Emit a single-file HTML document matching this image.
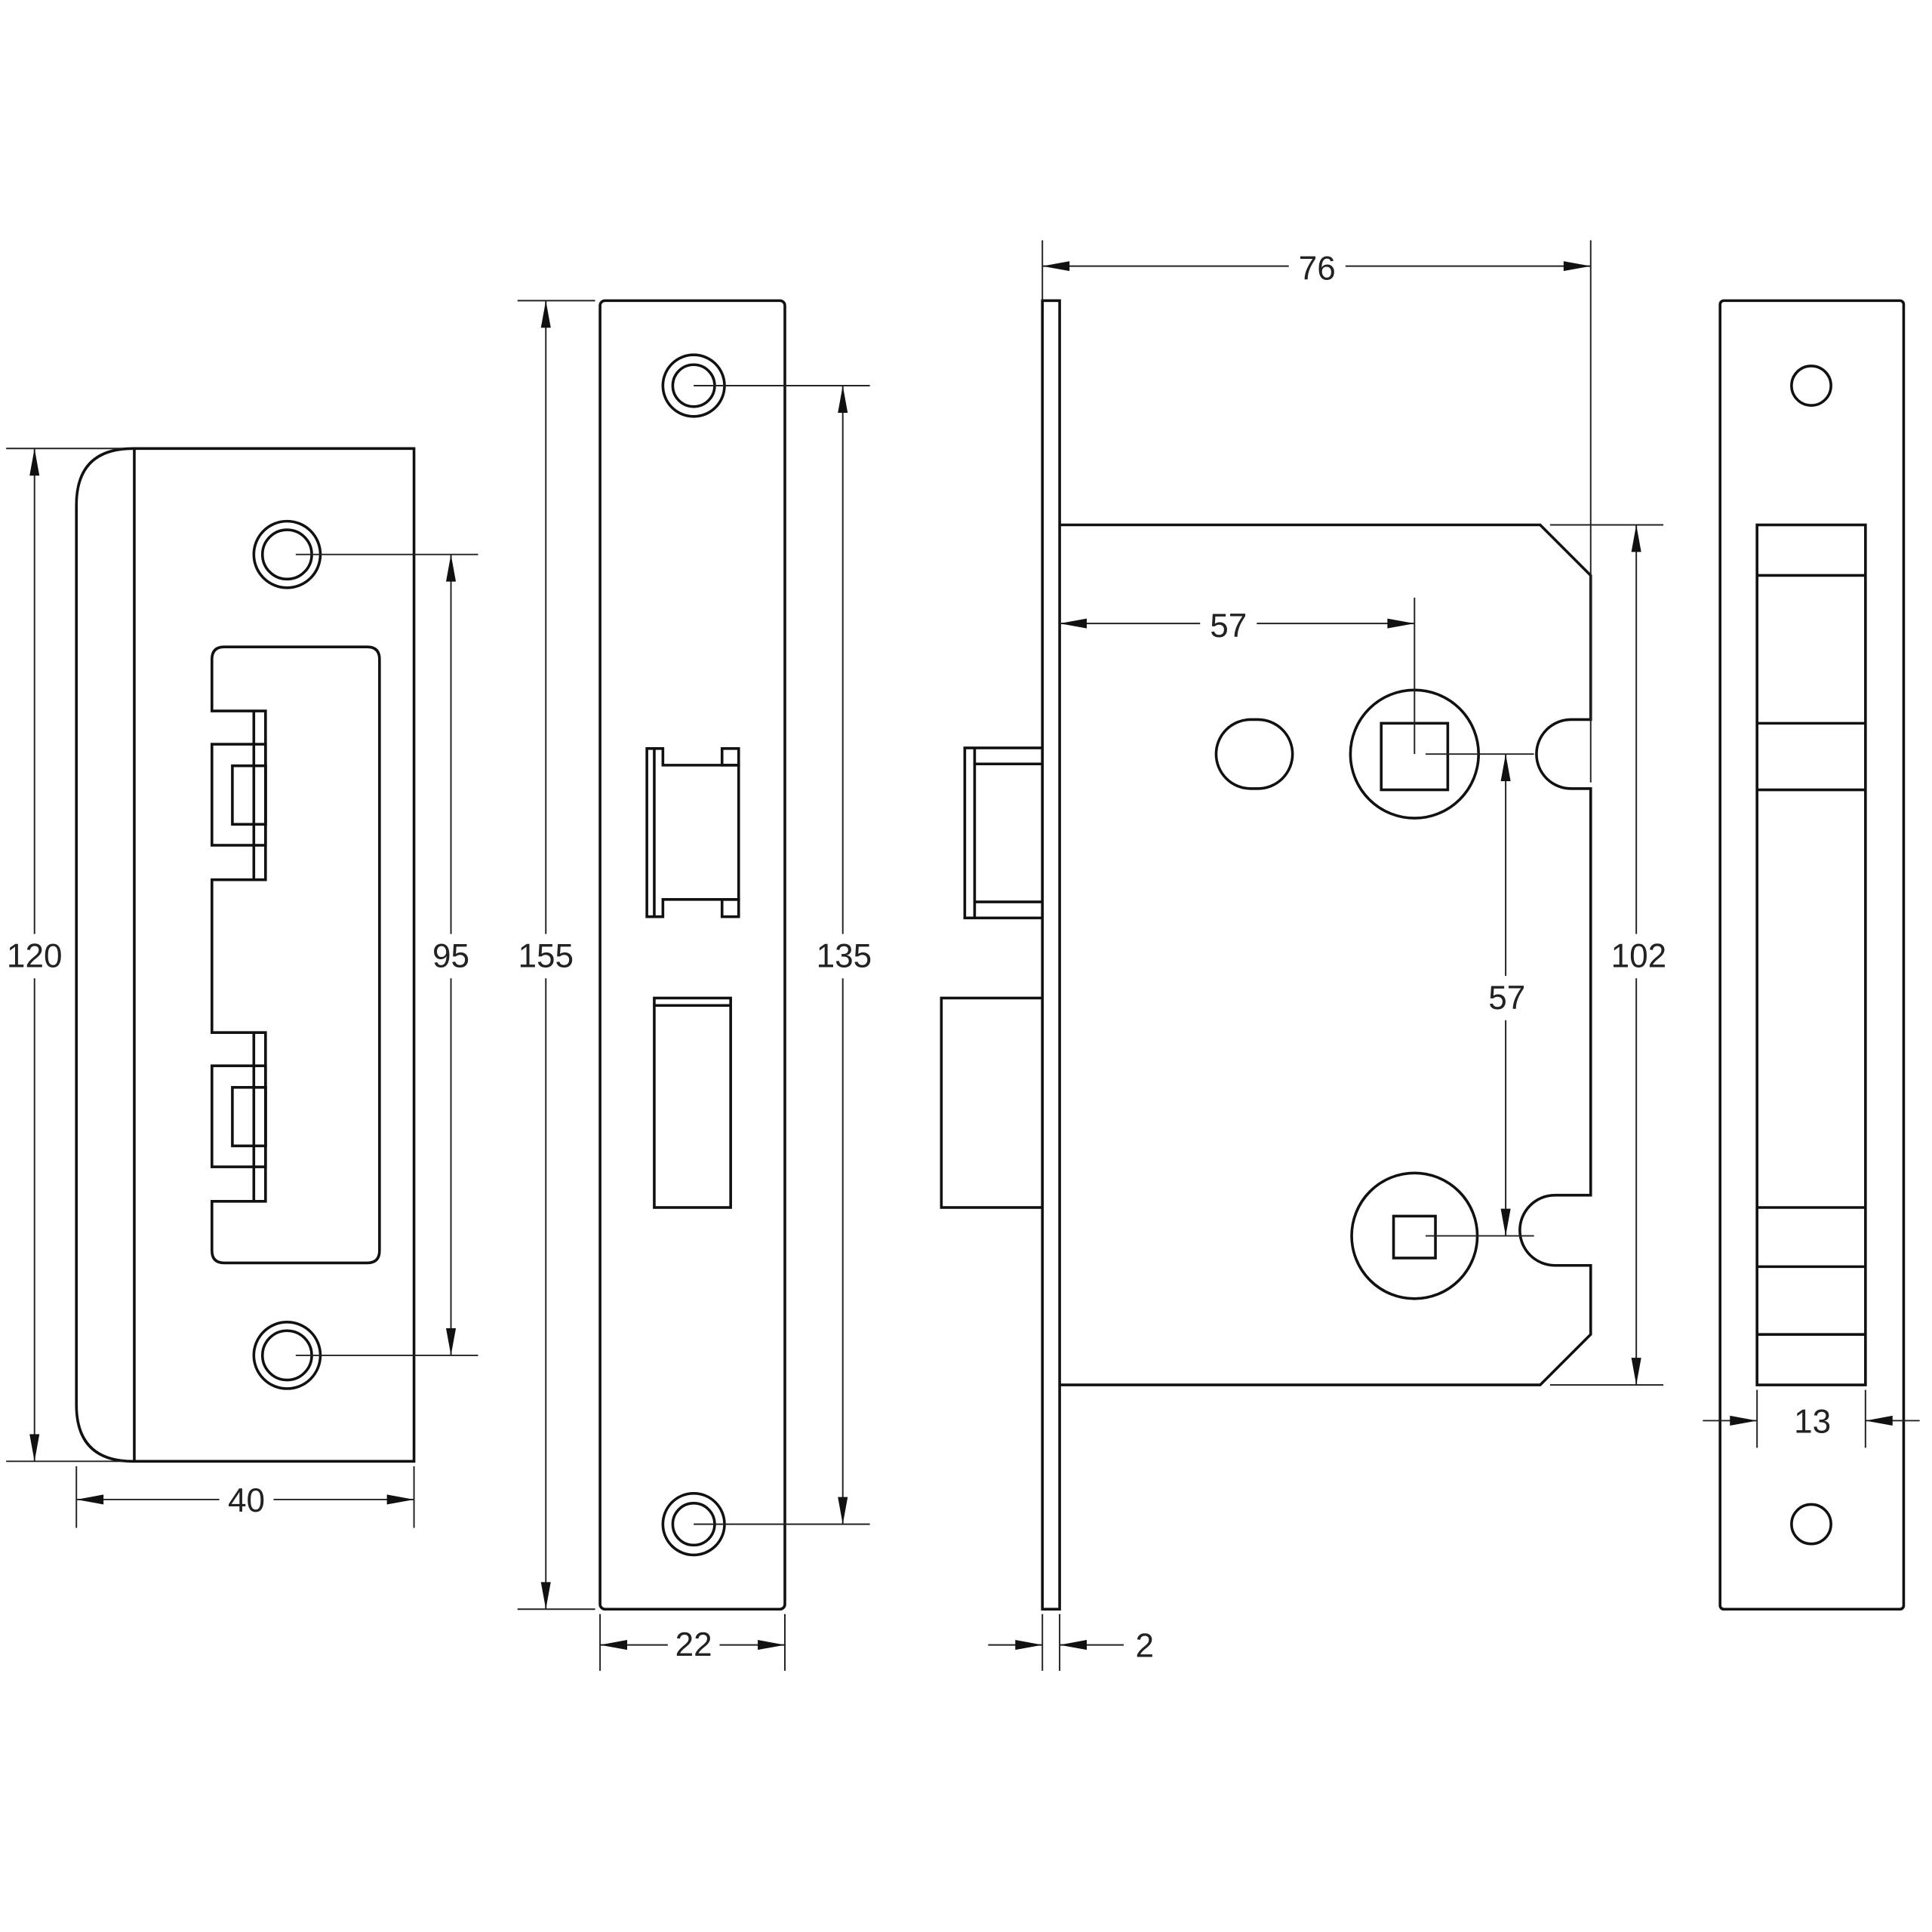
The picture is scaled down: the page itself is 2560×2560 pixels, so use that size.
<!DOCTYPE html>
<html><head><meta charset="utf-8"><style>
html,body{margin:0;padding:0;background:#fff}
svg{display:block}
text{font-family:"Liberation Sans","DejaVu Sans",sans-serif;font-size:27px;fill:#222;text-anchor:middle;dominant-baseline:central}
.t{fill:none;stroke:#111;stroke-width:2.2}
.n{fill:none;stroke:#222;stroke-width:1.2}
.a{fill:#111}
</style></head><body>
<svg width="2560" height="2560" viewBox="0 0 1568 1568" xmlns="http://www.w3.org/2000/svg">
<defs>
<path id="ar" d="M0,0 L-22,-4 L-22,4 Z" class="a"/>
</defs>
<rect width="1568" height="1568" fill="#fff"/>

<!-- ===== Strike plate ===== -->
<path class="t" d="M108,364 L336,364 L336,1186 L108,1186 Q62,1186 62,1140 L62,410 Q62,364 108,364 Z"/>
<line class="t" x1="109" y1="364" x2="109" y2="1186"/>
<circle class="t" cx="233" cy="450" r="27"/><circle class="t" cx="233" cy="450" r="20"/>
<circle class="t" cx="233" cy="1100" r="27"/><circle class="t" cx="233" cy="1100" r="20"/>
<path class="t" d="M172,577 L172,535 Q172,525 182,525 L298,525 Q308,525 308,535 L308,1015 Q308,1025 298,1025 L182,1025 Q172,1025 172,1015 L172,975 L215.5,975 L215.5,838 L172,838 L172,714 L215.5,714 L215.5,577 Z"/>
<g class="t">
<line x1="206" y1="577" x2="206" y2="714"/>
<rect x="172" y="604" width="43.5" height="82"/>
<rect x="188.6" y="621.5" width="27" height="47.5"/>
<line x1="206" y1="838" x2="206" y2="975"/>
<rect x="172" y="865" width="43.5" height="82"/>
<rect x="188.6" y="882.5" width="27" height="47.5"/>
</g>
<!-- dims -->
<g class="n">
<line x1="5" y1="364" x2="100" y2="364"/><line x1="5" y1="1186" x2="100" y2="1186"/>
<line x1="28" y1="364" x2="28" y2="1186"/>
<line x1="240" y1="450" x2="388" y2="450"/><line x1="240" y1="1100" x2="388" y2="1100"/>
<line x1="366" y1="450" x2="366" y2="1100"/>
<line x1="62" y1="1190" x2="62" y2="1240"/><line x1="336" y1="1190" x2="336" y2="1240"/>
<line x1="62" y1="1217" x2="336" y2="1217"/>
</g>
<use href="#ar" transform="translate(28,364) rotate(-90)"/><use href="#ar" transform="translate(28,1186) rotate(90)"/>
<use href="#ar" transform="translate(366,450) rotate(-90)"/><use href="#ar" transform="translate(366,1100) rotate(90)"/>
<use href="#ar" transform="translate(62,1217) rotate(180)"/><use href="#ar" transform="translate(336,1217)"/>
<rect x="2" y="758" width="52" height="36" fill="#fff"/><text x="28" y="776">120</text>
<rect x="346" y="758" width="40" height="36" fill="#fff"/><text x="366" y="776">95</text>
<rect x="178" y="1200" width="44" height="34" fill="#fff"/><text x="200" y="1218">40</text>

<!-- ===== Forend plate ===== -->
<rect class="t" x="487" y="244" width="150" height="1062" rx="4"/>
<circle class="t" cx="563" cy="313" r="25"/><circle class="t" cx="563" cy="313" r="17"/>
<circle class="t" cx="563" cy="1237" r="25"/><circle class="t" cx="563" cy="1237" r="17"/>
<path class="t" d="M525,607.5 L538,607.5 L538,621 L599.5,621 L599.5,730 L538,730 L538,744 L525,744 Z"/>
<line class="t" x1="531" y1="607.5" x2="531" y2="744"/>
<rect class="t" x="586" y="607.5" width="13.5" height="13.5"/>
<rect class="t" x="586" y="730" width="13.5" height="14"/>
<rect class="t" x="531" y="810" width="62" height="170"/>
<line class="t" x1="531" y1="816" x2="593" y2="816"/>
<g class="n">
<line x1="420" y1="244" x2="483" y2="244"/><line x1="420" y1="1306" x2="483" y2="1306"/>
<line x1="443" y1="244" x2="443" y2="1306"/>
<line x1="563" y1="313" x2="706" y2="313"/><line x1="563" y1="1237" x2="706" y2="1237"/>
<line x1="684" y1="313" x2="684" y2="1237"/>
<line x1="487" y1="1310" x2="487" y2="1356"/><line x1="637" y1="1310" x2="637" y2="1356"/>
<line x1="487" y1="1335" x2="637" y2="1335"/>
</g>
<use href="#ar" transform="translate(443,244) rotate(-90)"/><use href="#ar" transform="translate(443,1306) rotate(90)"/>
<use href="#ar" transform="translate(684,313) rotate(-90)"/><use href="#ar" transform="translate(684,1237) rotate(90)"/>
<use href="#ar" transform="translate(487,1335) rotate(180)"/><use href="#ar" transform="translate(637,1335)"/>
<rect x="420" y="758" width="46" height="36" fill="#fff"/><text x="443" y="776">155</text>
<rect x="661" y="758" width="46" height="36" fill="#fff"/><text x="685" y="776">135</text>
<rect x="542" y="1318" width="42" height="34" fill="#fff"/><text x="563" y="1335">22</text>

<!-- ===== Lock body ===== -->
<rect class="t" x="846" y="244" width="14" height="1062"/>
<path class="t" d="M860,426 L1250,426 L1291,467 L1291,584 L1275,584 A28,28 0 0 0 1275,640 L1291,640 L1291,970 L1262,970 A28.5,28.5 0 0 0 1262,1027 L1291,1027 L1291,1083 L1250,1124 L860,1124"/>
<rect class="t" x="783" y="607" width="63" height="138"/>
<line class="t" x1="791" y1="607" x2="791" y2="745"/>
<line class="t" x1="791" y1="620" x2="846" y2="620"/><line class="t" x1="791" y1="732" x2="846" y2="732"/>
<rect class="t" x="764" y="810" width="82" height="170"/>
<rect class="t" x="987" y="584" width="62" height="56" rx="28"/>
<circle class="t" cx="1148" cy="612" r="52"/>
<rect class="t" x="1121" y="587" width="54" height="54"/>
<circle class="t" cx="1148" cy="1003" r="51"/>
<rect class="t" x="1131" y="987" width="34" height="34"/>
<g class="n">
<line x1="846" y1="195" x2="846" y2="244"/>
<line x1="1291" y1="195" x2="1291" y2="635"/>
<line x1="846" y1="216" x2="1291" y2="216"/>
<line x1="860" y1="506" x2="1148" y2="506"/>
<line x1="1148" y1="485" x2="1148" y2="612"/>
<line x1="1157" y1="612" x2="1245" y2="612"/>
<line x1="1157" y1="1003" x2="1245" y2="1003"/>
<line x1="1222" y1="612" x2="1222" y2="1003"/>
<line x1="1258" y1="426" x2="1350" y2="426"/><line x1="1258" y1="1124" x2="1350" y2="1124"/>
<line x1="1328" y1="426" x2="1328" y2="1124"/>
<line x1="846" y1="1310" x2="846" y2="1356"/><line x1="860" y1="1310" x2="860" y2="1356"/>
<line x1="802" y1="1335" x2="846" y2="1335"/><line x1="860" y1="1335" x2="912" y2="1335"/>
</g>
<use href="#ar" transform="translate(846,216) rotate(180)"/><use href="#ar" transform="translate(1291,216)"/>
<use href="#ar" transform="translate(860,506) rotate(180)"/><use href="#ar" transform="translate(1148,506)"/>
<use href="#ar" transform="translate(1222,612) rotate(-90)"/><use href="#ar" transform="translate(1222,1003) rotate(90)"/>
<use href="#ar" transform="translate(1328,426) rotate(-90)"/><use href="#ar" transform="translate(1328,1124) rotate(90)"/>
<use href="#ar" transform="translate(846,1335)"/><use href="#ar" transform="translate(860,1335) rotate(180)"/>
<rect x="1046" y="200" width="46" height="34" fill="#fff"/><text x="1069" y="218">76</text>
<rect x="974" y="490" width="46" height="34" fill="#fff"/><text x="997" y="508">57</text>
<rect x="1200" y="792" width="46" height="36" fill="#fff"/><text x="1223" y="810">57</text>
<rect x="1304" y="758" width="50" height="36" fill="#fff"/><text x="1330" y="776">102</text>
<text x="929" y="1336">2</text>

<!-- ===== Edge view ===== -->
<rect class="t" x="1396" y="244" width="149" height="1062" rx="3"/>
<circle class="t" cx="1470" cy="313" r="16"/>
<circle class="t" cx="1470" cy="1237" r="16"/>
<rect class="t" x="1426" y="426" width="88" height="698"/>
<g class="t">
<line x1="1426" y1="467" x2="1514" y2="467"/>
<line x1="1426" y1="587" x2="1514" y2="587"/>
<line x1="1426" y1="641" x2="1514" y2="641"/>
<line x1="1426" y1="980" x2="1514" y2="980"/>
<line x1="1426" y1="1028" x2="1514" y2="1028"/>
<line x1="1426" y1="1083" x2="1514" y2="1083"/>
</g>
<g class="n">
<line x1="1426" y1="1128" x2="1426" y2="1175"/><line x1="1514" y1="1128" x2="1514" y2="1175"/>
<line x1="1382" y1="1153" x2="1426" y2="1153"/><line x1="1514" y1="1153" x2="1558" y2="1153"/>
</g>
<use href="#ar" transform="translate(1426,1153)"/><use href="#ar" transform="translate(1514,1153) rotate(180)"/>
<text x="1471" y="1154">13</text>
</svg>
</body></html>
